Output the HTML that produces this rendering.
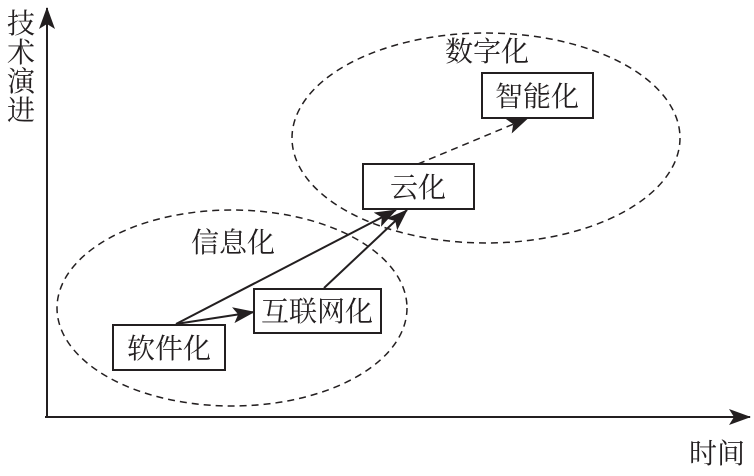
<!DOCTYPE html>
<html><head><meta charset="utf-8"><style>
html,body{margin:0;padding:0;background:#fff;}
svg text{font-family:"Noto Serif CJK SC","Liberation Serif",serif;fill:#231f20;}
</style></head><body>
<svg width="754" height="471" viewBox="0 0 754 471" xmlns="http://www.w3.org/2000/svg">
<defs>
<marker id="b" markerWidth="22" markerHeight="16" refX="21" refY="8" orient="auto" markerUnits="userSpaceOnUse">
<path d="M0,0 L22,8 L0,16 L5,8 z" fill="#231f20"/></marker>
</defs>
<g stroke="#231f20" fill="none">
<line x1="47" y1="417" x2="47" y2="8" stroke-width="2" marker-end="url(#b)"/>
<line x1="45" y1="417" x2="750" y2="417" stroke-width="2" marker-end="url(#b)"/>
<ellipse cx="232" cy="308" rx="175" ry="98" stroke-width="1.5" stroke-dasharray="7,5"/>
<ellipse cx="486" cy="138" rx="194" ry="105" stroke-width="1.5" stroke-dasharray="7,5"/>
<line x1="176" y1="324" x2="396" y2="210" stroke-width="2" marker-end="url(#b)"/>
<line x1="176" y1="324" x2="254" y2="312" stroke-width="2" marker-end="url(#b)"/>
<line x1="324" y1="288" x2="407" y2="210" stroke-width="2" marker-end="url(#b)"/>
<line x1="418" y1="164" x2="528" y2="118" stroke-width="1.5" stroke-dasharray="7,5" marker-end="url(#b)"/>
<rect x="113" y="325" width="112" height="45" stroke-width="2" fill="#fff"/>
<rect x="254" y="289" width="127" height="44" stroke-width="2" fill="#fff"/>
<rect x="363" y="164" width="111" height="45" stroke-width="2" fill="#fff"/>
<rect x="482" y="73" width="111" height="45" stroke-width="2" fill="#fff"/>
</g>
<g font-size="28">
<text x="169" y="358" text-anchor="middle">软件化</text>
<text x="317" y="321" text-anchor="middle">互联网化</text>
<text x="418" y="197" text-anchor="middle">云化</text>
<text x="537" y="106" text-anchor="middle">智能化</text>
<text x="233" y="252" text-anchor="middle">信息化</text>
<text x="487" y="61" text-anchor="middle">数字化</text>
<text x="717" y="463" text-anchor="middle">时间</text>
<text x="21" y="33" text-anchor="middle">技</text>
<text x="21" y="62" text-anchor="middle">术</text>
<text x="21" y="91" text-anchor="middle">演</text>
<text x="21" y="120" text-anchor="middle">进</text>
</g>
</svg>
</body></html>
